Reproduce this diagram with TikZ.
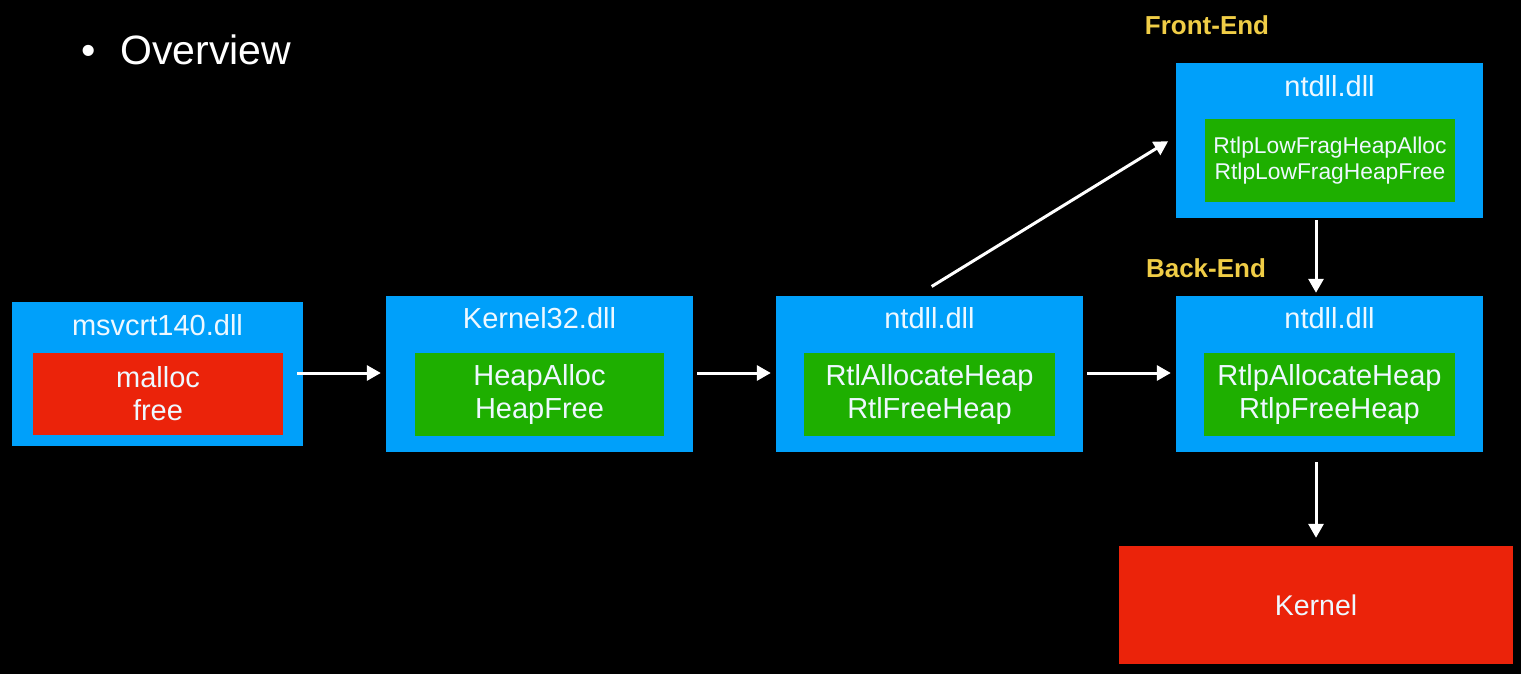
\documentclass[tikz,border=0pt]{standalone}
\usepackage{fontspec}
\setmainfont{Liberation Sans}
\usetikzlibrary{arrows.meta}
\definecolor{boxblue}{RGB}{0,160,250}
\definecolor{boxgreen}{RGB}{30,175,0}
\definecolor{boxred}{RGB}{235,35,10}
\definecolor{labyellow}{RGB}{240,205,70}
\definecolor{txt}{RGB}{238,248,255}
\tikzset{
  outerbox/.style={fill=boxblue, draw=none, inner sep=0pt, anchor=center},
  innerbox/.style={draw=none, inner sep=0pt, align=center, text=txt, font=\fontsize{29}{33}\selectfont},
  titletext/.style={text=txt, font=\fontsize{29}{32}\selectfont, inner sep=0pt},
  lab/.style={text=labyellow, font=\bfseries\fontsize{26}{30}\selectfont, inner sep=0pt},
  arr/.style={draw=white, line width=3pt, -{Triangle[length=14pt,width=15pt]}}
}
\begin{document}
\begin{tikzpicture}[x=1pt,y=-1pt]
\fill[black] (0,0) rectangle (1521,674);
\useasboundingbox (0,0) rectangle (1521,674);

\node[text=white, font=\fontsize{41}{46}\selectfont, inner sep=0pt, anchor=west] (ov) at (81,50) {\textbullet\hspace{25pt}Overview};

% msvcrt140
\node[outerbox, minimum width=291pt, minimum height=144pt] (m) at (157.5,374) {};
\node[titletext] (mt) at (157.5,325) {msvcrt140.dll};
\node[innerbox, fill=boxred, minimum width=250pt, minimum height=82pt] (mi) at (158,394) {malloc\\free};

% Kernel32
\node[outerbox, minimum width=307pt, minimum height=156pt] (k) at (539.5,374) {};
\node[titletext] (kt) at (539.5,318) {Kernel32.dll};
\node[innerbox, fill=boxgreen, minimum width=249pt, minimum height=83pt] (ki) at (539.5,394.5) {HeapAlloc\\HeapFree};

% ntdll middle
\node[outerbox, minimum width=307pt, minimum height=156pt] (n) at (929.5,374) {};
\node[titletext] (nt) at (929.5,318) {ntdll.dll};
\node[innerbox, fill=boxgreen, minimum width=251pt, minimum height=83pt] (ni) at (929.5,394.5) {RtlAllocateHeap\\RtlFreeHeap};

% ntdll back-end
\node[outerbox, minimum width=307pt, minimum height=156pt] (b) at (1329.5,374) {};
\node[titletext] (bt) at (1329.5,318) {ntdll.dll};
\node[innerbox, fill=boxgreen, minimum width=251pt, minimum height=83pt] (bi) at (1329.5,394.5) {RtlpAllocateHeap\\RtlpFreeHeap};

% ntdll front-end
\node[outerbox, minimum width=307pt, minimum height=155pt] (f) at (1329.5,140.5) {};
\node[titletext] (ft) at (1329.5,86) {ntdll.dll};
\node[innerbox, fill=boxgreen, minimum width=250pt, minimum height=83pt, font=\fontsize{22.8}{26}\selectfont] (fi) at (1330,160.5) {RtlpLowFragHeapAlloc\\RtlpLowFragHeapFree};

% Kernel
\node[innerbox, fill=boxred, minimum width=394pt, minimum height=118pt, font=\fontsize{28.5}{30}\selectfont] (kern) at (1316,605) {Kernel};

% labels
\node[lab] (fe) at (1207,25) {Front-End};
\node[lab] (be) at (1206,268) {Back-End};

% arrows
\draw[arr, shorten <=-6pt, shorten >=5pt] ([yshift=1pt]m.east) -- ([yshift=1pt]k.west);
\draw[arr, shorten <=4pt, shorten >=5pt] ([yshift=1pt]k.east) -- ([yshift=1pt]n.west);
\draw[arr, shorten <=4pt, shorten >=5pt] ([yshift=1pt]n.east) -- ([yshift=1pt]b.west);
\draw[arr, shorten <=17.8pt, shorten >=9pt] ([xshift=-13pt]n.north) -- ([yshift=4pt]f.west);
\draw[arr, shorten <=2pt, shorten >=3pt] (f.south -| kern.north) -- (b.north -| kern.north);
\draw[arr, shorten <=10pt, shorten >=8pt] (b.south -| kern.north) -- (kern.north);
\end{tikzpicture}
\end{document}
